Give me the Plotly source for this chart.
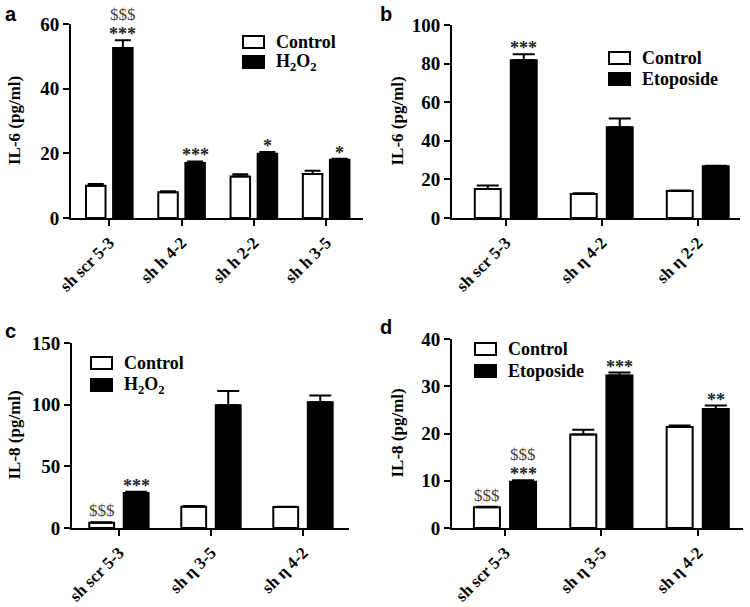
import plotly.graph_objects as go

# ---------------- data ----------------
cats_a = ["sh scr 5-3", "sh h 4-2", "sh h 2-2", "sh h 3-5"]
a_ctrl = [10.0, 8.0, 12.8, 13.6]
a_ctrl_err = [0.5, 0.3, 0.7, 1.0]
a_h2o2 = [52.6, 17.0, 19.9, 18.0]
a_h2o2_err = [2.4, 0.5, 0.5, 0.3]

cats_b = ["sh scr 5-3", "sh η 4-2", "sh η 2-2"]
b_ctrl = [15.0, 12.5, 14.0]
b_ctrl_err = [1.8, 0.3, 0.2]
b_etop = [81.7, 47.0, 26.8]
b_etop_err = [3.2, 4.5, 0.3]

cats_c = ["sh scr 5-3", "sh η 3-5", "sh η 4-2"]
c_ctrl = [4.3, 17.3, 17.0]
c_ctrl_err = [0.3, 0.5, 0.3]
c_h2o2 = [28.3, 99.5, 102.0]
c_h2o2_err = [1.0, 11.5, 5.5]

cats_d = ["sh scr 5-3", "sh η 3-5", "sh η 4-2"]
d_ctrl = [4.4, 19.8, 21.4]
d_ctrl_err = [0.1, 1.0, 0.3]
d_etop = [9.8, 32.3, 25.2]
d_etop_err = [0.3, 0.6, 0.7]

# significance marks: (category index, series 0=ctrl/1=treat, stars, dollars)
marks_a = [(0, 1, "***", "$$$"), (1, 1, "***", ""), (2, 1, "*", ""), (3, 1, "*", "")]
marks_b = [(0, 1, "***", "")]
marks_c = [(0, 0, "", "$$$"), (0, 1, "***", "")]
marks_d = [(0, 0, "", "$$$"), (0, 1, "***", "$$$"), (1, 1, "***", ""), (2, 1, "**", "")]

W, H = 750, 607
SERIF = "Liberation Serif, Times New Roman, serif"
SANS = "Liberation Sans, Arial, sans-serif"


def px(x):
    return x / W


def py(y):
    return 1 - y / H


panels = [
    dict(key="", cats=cats_a, s0=a_ctrl, e0=a_ctrl_err, s1=a_h2o2, e1=a_h2o2_err,
         n1="H<sub>2</sub>O<sub>2</sub>", ymax=60, dtick=20, title="IL-6 (pg/ml)",
         xpix=(71, 363), ypix=(24, 218), xr=[-0.53, 3.51], cap=8, marks=marks_a,
         letter="a", lpos=(3, 1), titlex=14, leg=(243, 42, 62)),
    dict(key="2", cats=cats_b, s0=b_ctrl, e0=b_ctrl_err, s1=b_etop, e1=b_etop_err,
         n1="Etoposide", ymax=100, dtick=20, title="IL-6 (pg/ml)",
         xpix=(452, 740), ypix=(25, 218), xr=[-0.56, 2.44], cap=11, marks=marks_b,
         letter="b", lpos=(378, 1), titlex=397, leg=(609, 58, 79)),
    dict(key="3", cats=cats_c, s0=c_ctrl, e0=c_ctrl_err, s1=c_h2o2, e1=c_h2o2_err,
         n1="H<sub>2</sub>O<sub>2</sub>", ymax=150, dtick=50, title="IL-8 (pg/ml)",
         xpix=(72, 349), ypix=(343, 528), xr=[-0.51, 2.5], cap=11, marks=marks_c,
         letter="c", lpos=(3, 318), titlex=14, leg=(91, 363, 385)),
    dict(key="4", cats=cats_d, s0=d_ctrl, e0=d_ctrl_err, s1=d_etop, e1=d_etop_err,
         n1="Etoposide", ymax=40, dtick=10, title="IL-8 (pg/ml)",
         xpix=(452, 743), ypix=(339, 528), xr=[-0.55, 2.47], cap=11, marks=marks_d,
         letter="d", lpos=(378, 314), titlex=397, leg=(475, 349, 371)),
]

fig = go.Figure()
annotations = []
shapes = []

for p in panels:
    k = p["key"]
    xa, ya = "x" + k, "y" + k
    for vals, errs, fill, name in [(p["s0"], p["e0"], "white", "Control"),
                                   (p["s1"], p["e1"], "black", p["n1"])]:
        fig.add_trace(go.Bar(
            x=p["cats"], y=vals, name=name, xaxis=xa, yaxis=ya,
            marker=dict(color=fill, line=dict(color="black", width=2)),
            error_y=dict(type="data", array=errs, arrayminus=[0] * len(errs),
                         symmetric=False, color="black", thickness=2, width=p["cap"]),
            showlegend=False,
        ))
    axx = dict(
        domain=[px(p["xpix"][0]), px(p["xpix"][1])], anchor=ya, type="category",
        range=p["xr"], showline=True, linecolor="black", linewidth=2,
        ticks="outside", ticklen=6, tickwidth=2, tickcolor="black",
        tickangle=-45, tickfont=dict(family=SERIF, size=17, color="black", weight="bold"),
        showgrid=False, zeroline=False, fixedrange=True, automargin=False,
    )
    axy = dict(
        domain=[py(p["ypix"][1]), py(p["ypix"][0])], anchor=xa,
        range=[0, p["ymax"]], tick0=0, dtick=p["dtick"],
        showline=True, linecolor="black", linewidth=2,
        ticks="outside", ticklen=6, tickwidth=2, tickcolor="black",
        tickfont=dict(family=SERIF, size=19, color="black", weight="bold"),
        showgrid=False, zeroline=False, fixedrange=True, automargin=False,
    )
    fig.update_layout({"xaxis" + k: axx, "yaxis" + k: axy})

    # y-axis title
    annotations.append(dict(
        x=px(p["titlex"]), y=(py(p["ypix"][1]) + py(p["ypix"][0])) / 2,
        xref="paper", yref="paper", text=p["title"], textangle=-90, showarrow=False,
        font=dict(family=SERIF, size=17, color="black", weight="bold"),
        xanchor="center", yanchor="middle"))
    # panel letter
    annotations.append(dict(
        x=px(p["lpos"][0]), y=py(p["lpos"][1]), xref="paper", yref="paper",
        text=p["letter"], showarrow=False, xanchor="left", yanchor="top",
        font=dict(family=SANS, size=20, color="black", weight="bold")))

    # significance marks
    for ci, si, stars, dollars in p["marks"]:
        vals = p["s0"] if si == 0 else p["s1"]
        errs = p["e0"] if si == 0 else p["e1"]
        top = vals[ci] + errs[ci]
        xpos = ci + (-0.1875 if si == 0 else 0.1875)
        if stars:
            annotations.append(dict(
                x=xpos, y=top, xref=xa, yref=ya, text=stars, showarrow=False,
                xanchor="center", yanchor="bottom", yshift=-6,
                font=dict(family=SERIF, size=18, color="#222", weight="bold")))
        if dollars:
            annotations.append(dict(
                x=xpos, y=top, xref=xa, yref=ya, text=dollars, showarrow=False,
                xanchor="center", yanchor="bottom", yshift=(14 if stars else 0),
                font=dict(family=SERIF, size=17, color="#444")))

    # legend (drawn boxes + labels)
    lx, r1, r2 = p["leg"]
    for row, fill, name in [(r1, "white", "Control"), (r2, "black", p["n1"])]:
        shapes.append(dict(type="rect", xref="paper", yref="paper",
                           x0=px(lx), x1=px(lx + 21), y0=py(row + 6), y1=py(row - 6),
                           fillcolor=fill, line=dict(color="black", width=2)))
        annotations.append(dict(
            x=px(lx + 31), y=py(row), xref="paper", yref="paper", text=name,
            showarrow=False, xanchor="left", yanchor="middle",
            font=dict(family=SERIF, size=18, color="black", weight="bold")))

fig.update_layout(
    width=W, height=H, margin=dict(l=0, r=0, t=0, b=0),
    paper_bgcolor="white", plot_bgcolor="white",
    barmode="group", bargap=0.25, bargroupgap=0.28,
    annotations=annotations, shapes=shapes, showlegend=False,
)

fig.write_html("out.html", config={"displayModeBar": False},
               post_script="document.body.style.margin='0';document.body.style.overflow='hidden';")
